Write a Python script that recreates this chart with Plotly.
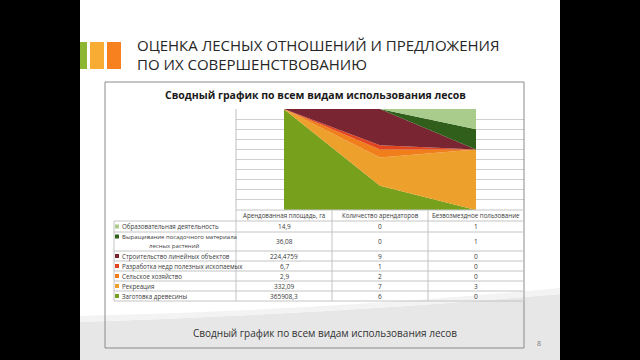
import plotly.graph_objects as go

# ---------------- data ----------------
categories = ["Арендованная площадь, га", "Количество арендаторов", "Безвозмездное пользование"]
series_names = [
    "Образовательная деятельность",
    "Выращивание посадочного материала лесных растений",
    "Строительство линейных объектов",
    "Разработка недр полезных ископаемых",
    "Сельское хозяйство",
    "Рекреация",
    "Заготовка древесины",
]
leased_area = [14.9, 36.08, 224.4759, 6.7, 2.9, 332.09, 365908.3]
tenants = [0, 0, 9, 1, 2, 7, 6]
free_use = [1, 1, 0, 0, 0, 3, 0]
series_colors = ["#A9CB8C", "#2F5F1B", "#7A2532", "#E2451F", "#F07E1B", "#EDA02B", "#77A01C"]

W, H = 640, 360
def px(x): return x / W
def py(y): return 1 - y / H

fig = go.Figure()
x_idx = list(range(len(categories)))
# stack bottom->top: reverse of table order
for i in reversed(range(len(series_names))):
    fig.add_trace(go.Scatter(
        x=x_idx,
        y=[leased_area[i], tenants[i], free_use[i]],
        name=series_names[i],
        stackgroup="one", groupnorm="percent",
        mode="none", fillcolor=series_colors[i],
        hoverinfo="skip", showlegend=False,
    ))

shapes = []
# slide background
shapes.append(dict(type="rect", xref="paper", yref="paper", x0=px(80), x1=px(560), y0=py(360), y1=py(0),
                   fillcolor="white", line=dict(width=0), layer="below"))
# grey swoosh at bottom
shapes.append(dict(type="path", xref="paper", yref="paper", layer="below",
                   path=f"M {px(80)},{py(322)} Q {px(330)},{py(314)} {px(560)},{py(294)} L {px(560)},{py(360)} L {px(80)},{py(360)} Z",
                   fillcolor="#e7e7e7", line=dict(width=0)))
shapes.append(dict(type="path", xref="paper", yref="paper", layer="below",
                   path=f"M {px(80)},{py(316)} Q {px(330)},{py(310)} {px(560)},{py(288)} L {px(560)},{py(294)} Q {px(330)},{py(314)} {px(80)},{py(322)} Z",
                   fillcolor="#f3f3f3", line=dict(width=0)))
# title bars
for (x0, x1, c) in [(80, 87, "#8DB632"), (90, 104, "#F9AC33"), (107, 121, "#F7811F")]:
    shapes.append(dict(type="rect", xref="paper", yref="paper", x0=px(x0), x1=px(x1), y0=py(69), y1=py(42),
                       fillcolor=c, line=dict(width=0), layer="below"))
# chart box
shapes.append(dict(type="rect", xref="paper", yref="paper", x0=px(105), x1=px(524), y0=py(348), y1=py(82),
                   fillcolor="rgba(0,0,0,0)", line=dict(color="#8a8a8a", width=1)))

# data table lines
tcol = "#c4c4c4"
row_bounds = [210, 221, 232, 251, 261, 271, 281, 291, 301]
col_bounds = [114, 236, 332, 428, 524]
for k, yb in enumerate(row_bounds):
    xs = 236 if k == 0 else 114
    shapes.append(dict(type="line", xref="paper", yref="paper", x0=px(xs), x1=px(524), y0=py(yb), y1=py(yb),
                       line=dict(color=tcol, width=1)))
for k, xb in enumerate(col_bounds):
    ys = 221 if k == 0 else 210
    shapes.append(dict(type="line", xref="paper", yref="paper", x0=px(xb), x1=px(xb), y0=py(ys), y1=py(301),
                       line=dict(color=tcol, width=1)))
shapes.append(dict(type="line", xref="paper", yref="paper", x0=px(236), x1=px(236), y0=py(109), y1=py(210),
                   line=dict(color="#bfbfbf", width=1)))

annotations = []
def txt(x, y, s, size, color="#3a3a3a", anchor="center", family="Open Sans"):
    annotations.append(dict(x=px(x), y=py(y), xref="paper", yref="paper", text=s, showarrow=False,
                            xanchor=anchor, yanchor="middle", borderpad=0,
                            font=dict(size=size, color=color, family=family)))

txt(136, 45, "ОЦЕНКА ЛЕСНЫХ ОТНОШЕНИЙ И ПРЕДЛОЖЕНИЯ", 15, "#262626", "left")
txt(136, 64, "ПО ИХ СОВЕРШЕНСТВОВАНИЮ", 15, "#262626", "left")
txt(315, 95, "<b>Сводный график по всем видам использования лесов</b>", 10.5, "#1a1a1a")
txt(325, 333, "Сводный график по всем видам использования лесов", 10, "#333333")
txt(539, 343, "8", 7, "#777777")

# header
col_centers = [284, 380, 476]
for c, name in zip(col_centers, categories):
    txt(c, 215.5, name, 6.2)

def fmt(v):
    return str(v).replace(".", ",")

for i, name in enumerate(series_names):
    top, bot = row_bounds[i + 1], row_bounds[i + 2]
    ymid = (top + bot) / 2
    if name.startswith("Выращивание"):
        y1 = top + 4.5
        txt(121, y1, "Выращивание посадочного материала", 6, anchor="left")
        txt(174, y1 + 9, "лесных растений", 6)
        ysq = y1
    else:
        txt(121, ymid, name, 6.2, anchor="left")
        ysq = ymid
    shapes.append(dict(type="rect", xref="paper", yref="paper", x0=px(115), x1=px(119), y0=py(ysq + 2), y1=py(ysq - 2),
                       fillcolor=series_colors[i], line=dict(width=0)))
    for c, vals in zip(col_centers, [leased_area, tenants, free_use]):
        txt(c, ymid, fmt(vals[i]), 6.5)

fig.update_layout(
    width=W, height=H, margin=dict(l=0, r=0, t=0, b=0),
    paper_bgcolor="black", plot_bgcolor="white",
    xaxis=dict(domain=[px(236), px(524)], range=[-0.5, 2.5], showticklabels=False, showgrid=False,
               zeroline=False, fixedrange=True),
    yaxis=dict(domain=[py(210), py(109)], range=[0, 100], dtick=10, showticklabels=False,
               showgrid=True, gridcolor="#cfcfcf", gridwidth=1, zeroline=False, fixedrange=True),
    shapes=shapes, annotations=annotations,
)
fig.write_html("out.html")
